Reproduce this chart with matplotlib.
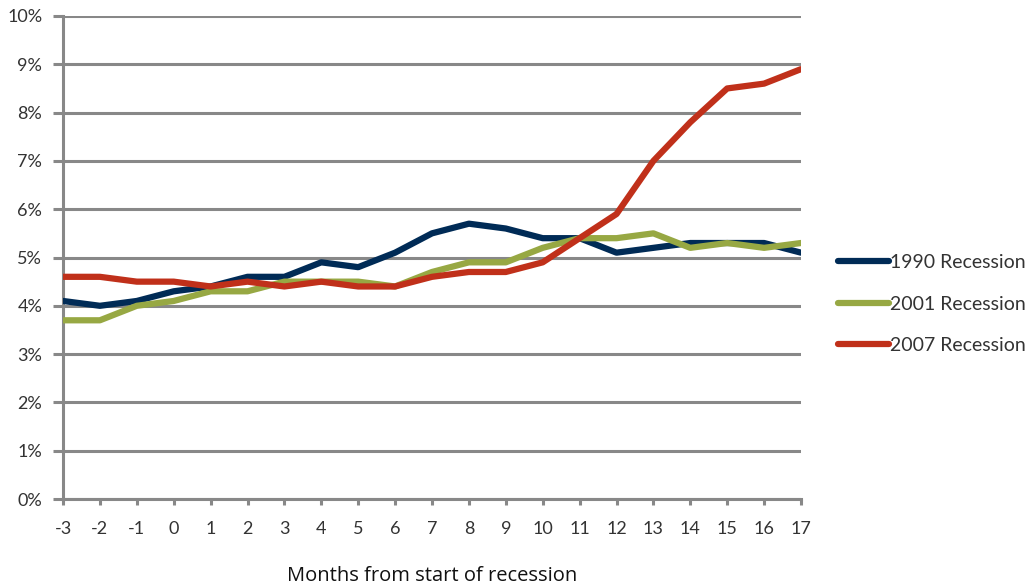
import matplotlib
matplotlib.use("Agg")
import matplotlib.pyplot as plt

months = list(range(-3, 18))
r1990 = [4.1, 4.0, 4.1, 4.3, 4.4, 4.6, 4.6, 4.9, 4.8, 5.1, 5.5, 5.7, 5.6, 5.4, 5.4, 5.1, 5.2, 5.3, 5.3, 5.3, 5.1]
r2001 = [3.7, 3.7, 4.0, 4.1, 4.3, 4.3, 4.5, 4.5, 4.5, 4.4, 4.7, 4.9, 4.9, 5.2, 5.4, 5.4, 5.5, 5.2, 5.3, 5.2, 5.3]
r2007 = [4.6, 4.6, 4.5, 4.5, 4.4, 4.5, 4.4, 4.5, 4.4, 4.4, 4.6, 4.7, 4.7, 4.9, 5.4, 5.9, 7.0, 7.8, 8.5, 8.6, 8.9]
series_names = ["1990 Recession", "2001 Recession", "2007 Recession"]
colors = ["#002b56", "#97a843", "#c0301a"]
yticks = list(range(0, 11))
ytick_labels = [f"{v}%" for v in yticks]

plt.rcParams['font.family'] = ['Lato', 'DejaVu Sans']

fig = plt.figure(figsize=(10.31, 5.86), dpi=100)
ax = fig.add_axes([63/1031, 1-499/586, (801-63)/1031, (499-16)/586])

for vals, name, c in zip([r1990, r2001, r2007], series_names, colors):
    ax.plot(months, vals, color=c, lw=4.5, label=name, solid_capstyle='round', solid_joinstyle='round', zorder=3)

grid_c = "#888888"
ax.set_xlim(-3, 17)
ax.set_ylim(0, 10)
ax.set_yticks(yticks)
ax.set_yticklabels(ytick_labels)
ax.set_xticks(months)
ax.set_xticklabels([str(m) for m in months])
ax.yaxis.grid(True, color=grid_c, lw=2.2, zorder=1)
ax.set_axisbelow(True)
for s in ['top', 'right']:
    ax.spines[s].set_visible(False)
for s in ['left', 'bottom']:
    ax.spines[s].set_color(grid_c)
    ax.spines[s].set_linewidth(2.2)
ax.tick_params(axis='y', length=7, width=2.2, color=grid_c, labelsize=13, labelcolor="#333333", pad=8)
ax.tick_params(axis='x', length=4.5, width=2.2, color=grid_c, labelsize=13, labelcolor="#333333", pad=11)

ax.set_xlabel("Months from start of recession", fontsize=14.5, color="#111111", labelpad=21,
              family=['Open Sans', 'DejaVu Sans'])

leg = ax.legend(loc='center left', bbox_to_anchor=(838/1031, 1-304/586), bbox_transform=fig.transFigure,
                frameon=False, fontsize=14, handlelength=2.6, handletextpad=0.1, labelspacing=1.27,
                borderaxespad=0, borderpad=0)
for t in leg.get_texts():
    t.set_color("#333333")

fig.savefig("out.png", dpi=100)
